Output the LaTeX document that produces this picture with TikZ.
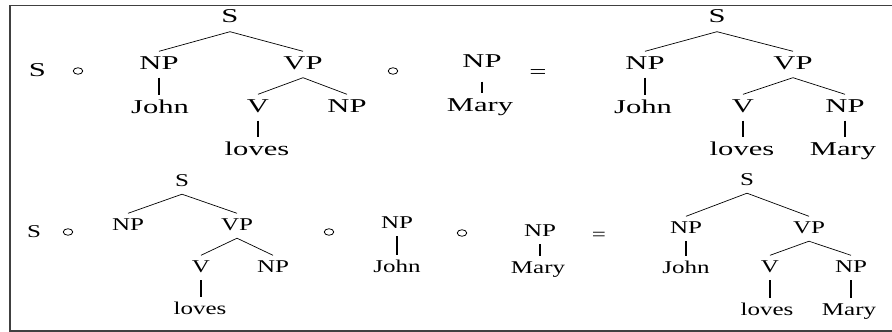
\documentclass[tikz,border=0pt]{standalone}
\usepackage{fontspec}
\setmainfont{Liberation Serif}
\usepackage{graphicx}
\usetikzlibrary{shapes.geometric}
\newcommand\TT[1]{\scalebox{1.56}[1]{#1}}
\newcommand\BB[1]{\scalebox{1.39}[1]{#1}}
\tikzset{
  toplab/.style={anchor=base, inner xsep=0pt, inner ysep=4pt, text height=13.5pt, text depth=4.5pt, font=\fontsize{19.6}{22}\selectfont},
  botlab/.style={anchor=base, inner xsep=0pt, inner ysep=4pt, text height=12.5pt, text depth=4pt, font=\fontsize{18}{20}\selectfont},
  branch/.style={line width=0.7pt},
  tbar/.style={line width=2.8pt},
  bbar/.style={line width=2.2pt},
  comp/.style={draw, ellipse, minimum width=9.5pt, minimum height=6.5pt, inner sep=0pt, line width=0.8pt},
  frame/.style={line width=1.5pt, draw={black!75}}
}
\begin{document}
\begin{tikzpicture}[x=1pt,y=-1pt]
\useasboundingbox (0,0) rectangle (892,332);
\draw[frame] (892,5.5) -- (10,5.5) -- (10,331) -- (892,331);

% ---------- top row ----------
\node[toplab] (a0) at (37.5,76) {\TT{S}};
\node[comp] (ac1) at (78,71) {};
\node[toplab] (aS) at (230,23) {\TT{S}};
\node[toplab] (aNP) at (159,69) {\TT{NP}};
\node[toplab] (aVP) at (303,69) {\TT{VP}};
\node[toplab] (aJohn) at (160,113) {\TT{John}};
\node[toplab] (aV) at (258,112) {\TT{V}};
\node[toplab] (aNP2) at (347,112) {\TT{NP}};
\node[toplab] (aloves) at (257,155) {\TT{loves}};
\draw[branch] (aS.south) -- (aNP.north);
\draw[branch] (aS.south) -- (aVP.north);
\draw[branch] (aVP.south) -- (aV.north);
\draw[branch] (aVP.south) -- (aNP2.north);
\draw[tbar] (aNP.south) -- (aNP.south |- aJohn.north);
\draw[tbar] (aV.south) -- (aV.south |- aloves.north);
\node[comp] (ac2) at (393,71) {};
\node[toplab] (aMNP) at (482,67) {\TT{NP}};
\node[toplab] (aMary) at (480,111) {\TT{Mary}};
\draw[tbar, shorten <=6pt] (aMNP.south) -- (aMNP.south |- aMary.north);
\node[toplab] (aeq) at (538,78) {\TT{=}};
\node[toplab] (rS) at (717,23) {\TT{S}};
\node[toplab] (rNP) at (645,69) {\TT{NP}};
\node[toplab] (rVP) at (793,69) {\TT{VP}};
\node[toplab] (rJohn) at (643,113) {\TT{John}};
\node[toplab] (rV) at (743,112) {\TT{V}};
\node[toplab] (rNP2) at (845,112) {\TT{NP}};
\node[toplab] (rloves) at (742,155) {\TT{loves}};
\node[toplab] (rMary) at (843,155) {\TT{Mary}};
\draw[branch] (rS.south) -- (rNP.north);
\draw[branch] (rS.south) -- (rVP.north);
\draw[branch] (rVP.south) -- (rV.north);
\draw[branch] (rVP.south) -- (rNP2.north);
\draw[tbar] (rNP.south) -- (rNP.south |- rJohn.north);
\draw[tbar] (rV.south) -- (rV.south |- rloves.north);
\draw[tbar] (rNP2.south) -- (rNP2.south |- rMary.north);

% ---------- bottom row ----------
\node[botlab] (b0) at (34,237) {\BB{S}};
\node[comp] (bc1) at (68,232) {};
\node[botlab] (bS) at (182,186) {\BB{S}};
\node[botlab] (bNP) at (128,230) {\BB{NP}};
\node[botlab] (bVP) at (237,230) {\BB{VP}};
\node[botlab] (bV) at (201,272) {\BB{V}};
\node[botlab] (bNP2) at (273,272) {\BB{NP}};
\node[botlab] (bloves) at (200,314) {\BB{loves}};
\draw[branch] (bS.south) -- (bNP.north);
\draw[branch] (bS.south) -- (bVP.north);
\draw[branch] (bVP.south) -- (bV.north);
\draw[branch] (bVP.south) -- (bNP2.north);
\draw[bbar] (bV.south) -- (bV.south |- bloves.north);
\node[comp] (bc2) at (329,232) {};
\node[botlab] (bJNP) at (397,228) {\BB{NP}};
\node[botlab] (bJohn) at (397,272) {\BB{John}};
\draw[bbar] (bJNP.south) -- (bJNP.south |- bJohn.north);
\node[comp] (bc3) at (462,233) {};
\node[botlab] (bMNP) at (540,236) {\BB{NP}};
\node[botlab] (bMary) at (538,273) {\BB{Mary}};
\draw[bbar] (bMNP.south) -- (bMNP.south |- bMary.north);
\node[botlab] (beq) at (599,240) {\BB{=}};
\node[botlab] (sS) at (747,185) {\BB{S}};
\node[botlab] (sNP) at (686,233) {\BB{NP}};
\node[botlab] (sVP) at (809,233) {\BB{VP}};
\node[botlab] (sJohn) at (686,273) {\BB{John}};
\node[botlab] (sV) at (770,272) {\BB{V}};
\node[botlab] (sNP2) at (851,272) {\BB{NP}};
\node[botlab] (sloves) at (767,315) {\BB{loves}};
\node[botlab] (sMary) at (849,315) {\BB{Mary}};
\draw[branch] (sS.south) -- (sNP.north);
\draw[branch] (sS.south) -- (sVP.north);
\draw[branch] (sVP.south) -- (sV.north);
\draw[branch] (sVP.south) -- (sNP2.north);
\draw[bbar] (sNP.south) -- (sNP.south |- sJohn.north);
\draw[bbar] (sV.south) -- (sV.south |- sloves.north);
\draw[bbar] (sNP2.south) -- (sNP2.south |- sMary.north);
\end{tikzpicture}
\end{document}
